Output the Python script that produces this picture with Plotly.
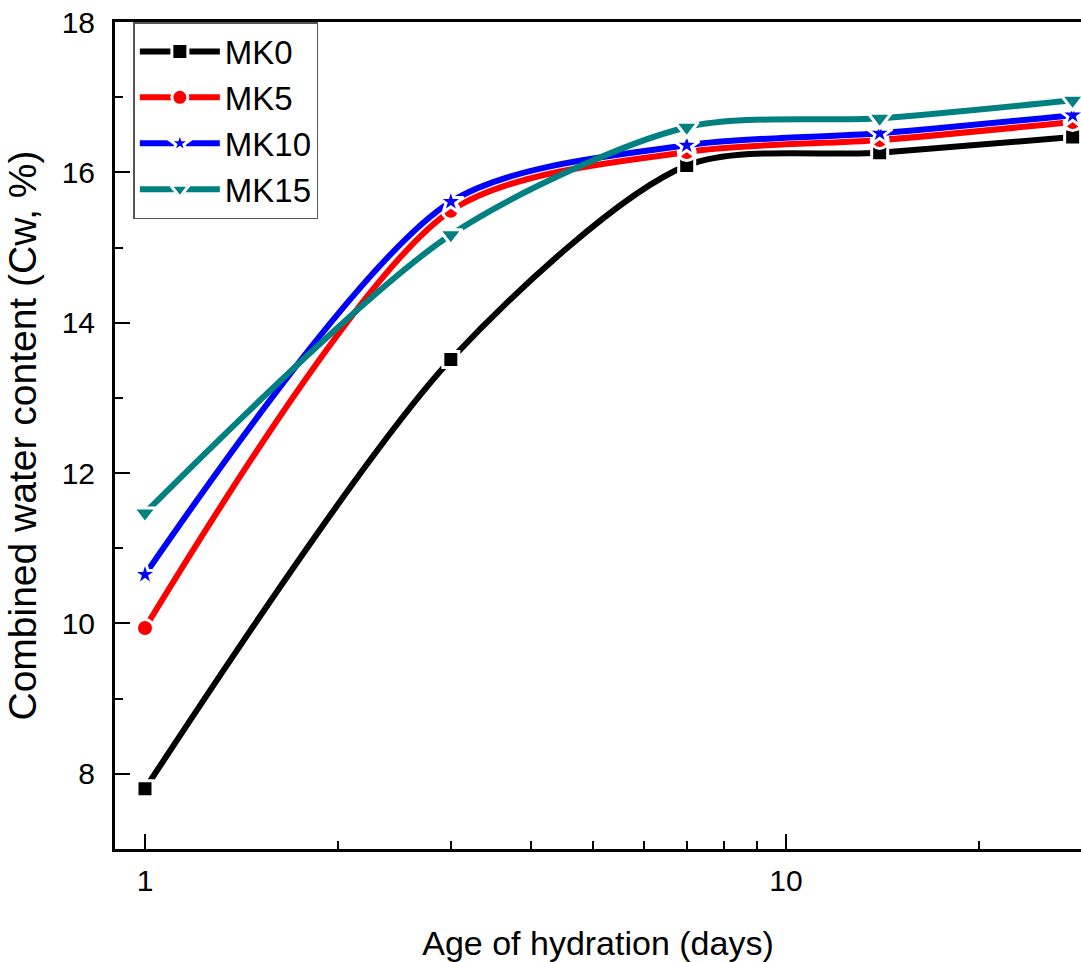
import plotly.graph_objects as go

days = [1, 3, 7, 14, 28]
series_names = ["MK0", "MK5", "MK10", "MK15"]
mk0 = [7.80, 13.51, 16.09, 16.26, 16.47]
mk5 = [9.94, 15.49, 16.27, 16.43, 16.67]
mk10 = [10.65, 15.61, 16.36, 16.52, 16.76]
mk15 = [11.47, 15.17, 16.60, 16.72, 16.96]
values = [mk0, mk5, mk10, mk15]
colors = ["#000000", "#FF0000", "#0000FF", "#008080"]
symbols = ["square", "circle", "star", "triangle-down"]
msizes = [16, 17, 19, 20]

fig = go.Figure()
for name, vals, c, s, ms in zip(series_names, values, colors, symbols, msizes):
    fig.add_trace(go.Scatter(
        x=days, y=vals, name=name, mode="lines+markers", legendgroup=name,
        line=dict(color=c, width=6, shape="spline", smoothing=0.8),
        marker=dict(symbol=s, size=ms, color=c, line=dict(color="white", width=3)),
    ))

font = "Liberation Sans, Arial, sans-serif"
fig.update_layout(
    width=1081, height=962,
    margin=dict(l=115, r=0, t=22, b=113),
    paper_bgcolor="white", plot_bgcolor="white",
    font=dict(family=font, color="black", size=30),
    showlegend=True,
    legend=dict(
        x=0.019, y=1.0, xanchor="left", yanchor="top",
        bordercolor="#555555", borderwidth=1.5, bgcolor="white",
        font=dict(size=33, family=font), itemwidth=80,
        tracegroupgap=0,
    ),
    xaxis=dict(
        type="log", range=[-0.0468, 1.4602], automargin=False,
        tickvals=[1, 10], ticktext=["1", "10"],
        ticks="inside", ticklen=15, tickwidth=2, tickcolor="black",
        showline=True, linecolor="black", linewidth=3, mirror=True,
        showgrid=False, zeroline=False,
        minor=dict(tickvals=[2, 3, 4, 5, 6, 7, 8, 9, 20], ticks="inside",
                   ticklen=8, tickwidth=2, tickcolor="black", showgrid=False),
        tickfont=dict(size=30), ticklabelstandoff=3,
        title=dict(text="Age of hydration (days)", font=dict(size=34), standoff=36),
    ),
    yaxis=dict(
        range=[7, 18], automargin=False,
        tickvals=[8, 10, 12, 14, 16, 18],
        ticks="inside", ticklen=15, tickwidth=2, tickcolor="black",
        showline=True, linecolor="black", linewidth=3,
        showgrid=False, zeroline=False, ticklabeloverflow="allow",
        minor=dict(tickvals=[9, 11, 13, 15, 17], ticks="inside",
                   ticklen=8, tickwidth=2, tickcolor="black", showgrid=False),
        tickfont=dict(size=30), ticklabelstandoff=11,
        title=dict(text="Combined water content (Cw, %)", font=dict(size=39), standoff=13),
    ),
)

# remove the browser's default 8px body margin so the figure sits at the window origin
fig.write_html("out.html", config={"displayModeBar": False},
               post_script="document.body.style.margin='0px';")
